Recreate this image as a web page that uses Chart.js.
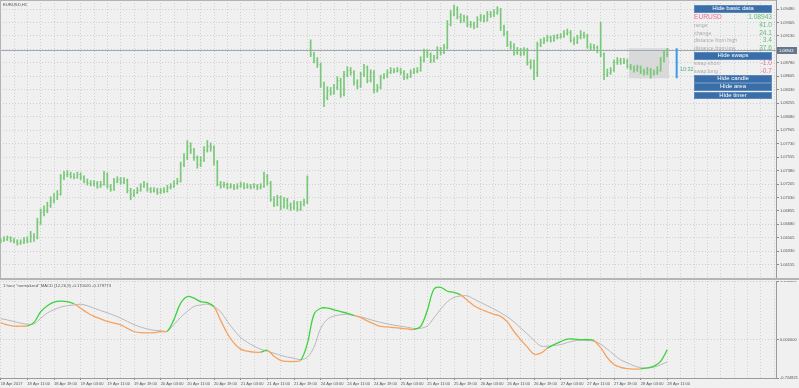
<!DOCTYPE html>
<html>
<head>
<meta charset="utf-8">
<script src="https://cdn.jsdelivr.net/npm/chart.js@4.4.1/dist/chart.umd.min.js"></script>
<style>
html, body { margin: 0; padding: 0; background: #f0f0f0; overflow: hidden; }
#wrap { position: relative; width: 799px; height: 388px; font-family: "Liberation Sans", Arial, sans-serif; }
canvas { position: absolute; left: 0; }
#price { top: 0; }
#macd { top: 281px; }
#sep { position: absolute; left: 0; top: 278px; width: 799px; height: 2px; background: #b4b4b4; }
.title { position: absolute; left: 3px; font-size: 4.2px; color: #555; white-space: nowrap; }
.btn { position: absolute; left: 694px; width: 78px; height: 7.6px; box-sizing: border-box; background: #3a6ea8;
       border: 1px solid #5d89bb; color: #fff; font-size: 6px; line-height: 5.6px; text-align: center; white-space: nowrap; }
.row { position: absolute; left: 694px; width: 78px; height: 8px; line-height: 8px; white-space: nowrap; }
.row .k { position: absolute; left: 0; color: #ababab; font-size: 5.3px; }
.row .v { position: absolute; right: 0; font-size: 6.6px; }
.up { color: #5fc27c; }
.dn { color: #e8708c; }
#timer { position: absolute; left: 680px; top: 66px; font-size: 5.4px; color: #4fae7f; }
</style>
</head>
<body>
<div id="wrap">
  <canvas id="price" width="799" height="278"></canvas>
  <div id="sep"></div>
  <canvas id="macd" width="799" height="107"></canvas>

  <div class="title" style="top:2px">EURUSD,H1</div>
  <div class="title" style="top:283px">1 hour "normalized" MACD (12,26,9) -0.170020 -0.179773</div>

  <div class="btn" style="top:5px">Hide basic data</div>
  <div class="row" style="top:13px"><span class="k dn" style="font-size:6.6px;color:#e8709a">EURUSD</span><span class="v up">1.08943</span></div>
  <div class="row" style="top:21px"><span class="k">range</span><span class="v up">41.0</span></div>
  <div class="row" style="top:28.5px"><span class="k">change</span><span class="v up">24.1</span></div>
  <div class="row" style="top:36px"><span class="k">distance from high</span><span class="v up">3.4</span></div>
  <div class="row" style="top:44px"><span class="k">distance from low</span><span class="v up">37.6</span></div>
  <div class="btn" style="top:52px">Hide swaps</div>
  <div class="row" style="top:59px"><span class="k">swap short</span><span class="v dn">-1.0</span></div>
  <div class="row" style="top:67px"><span class="k">swap long</span><span class="v dn">-0.7</span></div>
  <div class="btn" style="top:75.3px">Hide candle</div>
  <div class="btn" style="top:83.3px">Hide area</div>
  <div class="btn" style="top:91.5px">Hide timer</div>
  <div id="timer">10:32</div>
</div>

<script>
// EURUSD H1, 18 Apr 2017 03:00 .. 28 Apr 2017 11:00
const xLabels = ['18 Apr 2017', '18 Apr 11:00', '18 Apr 19:00', '19 Apr 03:00', '19 Apr 11:00', '19 Apr 19:00',
    '20 Apr 03:00', '20 Apr 11:00', '20 Apr 19:00', '21 Apr 03:00', '21 Apr 11:00', '21 Apr 19:00',
    '24 Apr 03:00', '24 Apr 11:00', '24 Apr 19:00', '25 Apr 03:00', '25 Apr 11:00', '25 Apr 19:00',
    '26 Apr 03:00', '26 Apr 11:00', '26 Apr 19:00', '27 Apr 03:00', '27 Apr 11:00', '27 Apr 19:00',
    '28 Apr 03:00', '28 Apr 11:00'];

const priceTicks = [1.06155, 1.06330, 1.06505, 1.06680, 1.06855, 1.07030, 1.07205, 1.07380, 1.07555, 1.07730,
    1.07905, 1.08080, 1.08255, 1.08430, 1.08605, 1.08780, 1.08955, 1.09130, 1.09305, 1.09480];
const macdTicks = [-0.724821, 0, 1.104401];

const opens = [
    1.0646,1.0648,1.0649,1.0651,1.0648,1.0647,1.0644,1.0645,1.0648,1.0647,
    1.0653,1.0651,1.0671,1.0684,1.0687,1.0693,1.0700,1.0704,1.0708,1.0729,
    1.0733,1.0734,1.0731,1.0730,1.0733,1.0729,1.0725,1.0722,1.0721,1.0722,
    1.0718,1.0721,1.0733,1.0718,1.0714,1.0725,1.0727,1.0723,1.0726,1.0713,
    1.0707,1.0710,1.0713,1.0718,1.0721,1.0714,1.0712,1.0713,1.0710,1.0713,
    1.0712,1.0716,1.0718,1.0722,1.0725,1.0746,1.0755,1.0770,1.0765,1.0755,
    1.0746,1.0752,1.0765,1.0770,1.0768,1.0749,1.0721,1.0718,1.0720,1.0717,
    1.0718,1.0716,1.0718,1.0720,1.0717,1.0718,1.0717,1.0718,1.0716,1.0718,
    1.0731,1.0722,1.0701,1.0695,1.0703,1.0692,1.0700,1.0693,1.0690,1.0696,
    1.0688,1.0695,1.0697,1.0905,1.0889,1.0882,1.0876,1.0850,1.0833,1.0843,
    1.0840,1.0846,1.0856,1.0837,1.0863,1.0869,1.0866,1.0853,1.0848,1.0863,
    1.0872,1.0856,1.0866,1.0843,1.0846,1.0859,1.0861,1.0866,1.0869,1.0868,
    1.0869,1.0866,1.0859,1.0861,1.0866,1.0868,1.0869,1.0882,1.0892,1.0889,
    1.0882,1.0885,1.0895,1.0892,1.0898,1.0929,1.0942,1.0948,1.0939,1.0934,
    1.0937,1.0929,1.0928,1.0926,1.0935,1.0938,1.0934,1.0942,1.0941,1.0944,
    1.0947,1.0924,1.0917,1.0903,1.0900,1.0892,1.0895,1.0891,1.0895,1.0879,
    1.0874,1.0866,1.0902,1.0905,1.0908,1.0911,1.0908,1.0911,1.0912,1.0913,
    1.0917,1.0918,1.0908,1.0905,1.0911,1.0916,1.0913,1.0900,1.0899,1.0898,
    1.0895,1.0889,1.0863,1.0866,1.0869,1.0879,1.0882,1.0879,1.0881,1.0874,
    1.0872,1.0870,1.0872,1.0868,1.0866,1.0869,1.0865,1.0866,1.0869,1.0882,
    1.0889];
const highs = [
    1.0650,1.0652,1.0653,1.0652,1.0650,1.0648,1.0648,1.0651,1.0652,1.0659,
    1.0656,1.0676,1.0688,1.0692,1.0697,1.0704,1.0708,1.0712,1.0733,1.0737,
    1.0738,1.0736,1.0734,1.0736,1.0735,1.0731,1.0727,1.0725,1.0725,1.0724,
    1.0724,1.0737,1.0735,1.0720,1.0728,1.0730,1.0729,1.0729,1.0727,1.0715,
    1.0713,1.0716,1.0721,1.0724,1.0722,1.0716,1.0716,1.0715,1.0715,1.0716,
    1.0719,1.0721,1.0725,1.0728,1.0749,1.0760,1.0777,1.0774,1.0767,1.0757,
    1.0756,1.0769,1.0777,1.0774,1.0770,1.0751,1.0724,1.0723,1.0722,1.0721,
    1.0720,1.0721,1.0723,1.0722,1.0721,1.0720,1.0721,1.0720,1.0721,1.0736,
    1.0733,1.0724,1.0704,1.0706,1.0705,1.0703,1.0702,1.0696,1.0699,1.0698,
    1.0698,1.0701,1.0731,1.0908,1.0892,1.0885,1.0878,1.0853,1.0847,1.0846,
    1.0850,1.0860,1.0858,1.0867,1.0873,1.0872,1.0868,1.0856,1.0866,1.0876,
    1.0874,1.0869,1.0868,1.0850,1.0862,1.0864,1.0869,1.0872,1.0871,1.0872,
    1.0871,1.0868,1.0864,1.0869,1.0871,1.0872,1.0886,1.0896,1.0895,1.0891,
    1.0888,1.0899,1.0898,1.0902,1.0933,1.0946,1.0953,1.0951,1.0942,1.0940,
    1.0939,1.0932,1.0931,1.0938,1.0941,1.0940,1.0945,1.0945,1.0947,1.0951,
    1.0949,1.0927,1.0919,1.0906,1.0903,1.0898,1.0897,1.0898,1.0897,1.0882,
    1.0882,1.0905,1.0909,1.0911,1.0914,1.0913,1.0914,1.0915,1.0916,1.0920,
    1.0922,1.0920,1.0911,1.0914,1.0920,1.0918,1.0915,1.0903,1.0902,1.0900,
    1.0931,1.0891,1.0870,1.0872,1.0882,1.0885,1.0884,1.0884,1.0883,1.0876,
    1.0874,1.0875,1.0874,1.0870,1.0872,1.0871,1.0869,1.0873,1.0885,1.0893,
    1.0897];
const lows = [
    1.0644,1.0646,1.0647,1.0645,1.0644,1.0641,1.0642,1.0643,1.0644,1.0645,
    1.0646,1.0649,1.0668,1.0679,1.0683,1.0690,1.0696,1.0700,1.0706,1.0726,
    1.0730,1.0728,1.0727,1.0728,1.0726,1.0722,1.0719,1.0718,1.0718,1.0715,
    1.0716,1.0719,1.0715,1.0711,1.0712,1.0722,1.0720,1.0721,1.0709,1.0700,
    1.0704,1.0708,1.0711,1.0716,1.0711,1.0709,1.0710,1.0707,1.0708,1.0709,
    1.0710,1.0714,1.0716,1.0720,1.0723,1.0743,1.0752,1.0760,1.0751,1.0741,
    1.0743,1.0750,1.0762,1.0763,1.0745,1.0718,1.0715,1.0716,1.0714,1.0715,
    1.0713,1.0714,1.0716,1.0714,1.0715,1.0714,1.0715,1.0713,1.0714,1.0716,
    1.0719,1.0698,1.0691,1.0692,1.0687,1.0689,1.0688,1.0686,1.0687,1.0685,
    1.0686,1.0692,1.0695,1.0886,1.0878,1.0872,1.0846,1.0821,1.0830,1.0836,
    1.0837,1.0843,1.0833,1.0835,1.0860,1.0862,1.0849,1.0844,1.0846,1.0860,
    1.0852,1.0853,1.0839,1.0840,1.0844,1.0857,1.0859,1.0864,1.0865,1.0866,
    1.0863,1.0856,1.0857,1.0859,1.0864,1.0865,1.0867,1.0879,1.0885,1.0878,
    1.0879,1.0883,1.0888,1.0890,1.0896,1.0926,1.0939,1.0935,1.0930,1.0931,
    1.0925,1.0924,1.0922,1.0924,1.0932,1.0931,1.0932,1.0937,1.0938,1.0941,
    1.0920,1.0913,1.0899,1.0896,1.0888,1.0889,1.0887,1.0888,1.0875,1.0870,
    1.0856,1.0860,1.0899,1.0903,1.0906,1.0905,1.0906,1.0909,1.0910,1.0911,
    1.0914,1.0905,1.0902,1.0903,1.0909,1.0910,1.0897,1.0895,1.0894,1.0891,
    1.0886,1.0856,1.0860,1.0863,1.0867,1.0876,1.0876,1.0877,1.0871,1.0869,
    1.0866,1.0867,1.0864,1.0862,1.0863,1.0858,1.0862,1.0863,1.0867,1.0879,
    1.0886];
const closes = [
    1.0648,1.0649,1.0651,1.0648,1.0647,1.0644,1.0645,1.0648,1.0647,1.0653,
    1.0651,1.0671,1.0684,1.0687,1.0693,1.0700,1.0704,1.0708,1.0729,1.0733,
    1.0734,1.0731,1.0730,1.0733,1.0729,1.0725,1.0722,1.0721,1.0722,1.0718,
    1.0721,1.0733,1.0718,1.0714,1.0725,1.0727,1.0723,1.0726,1.0713,1.0707,
    1.0710,1.0713,1.0718,1.0721,1.0714,1.0712,1.0713,1.0710,1.0713,1.0712,
    1.0716,1.0718,1.0722,1.0725,1.0746,1.0755,1.0770,1.0765,1.0755,1.0746,
    1.0752,1.0765,1.0770,1.0768,1.0749,1.0721,1.0718,1.0720,1.0717,1.0718,
    1.0716,1.0718,1.0720,1.0717,1.0718,1.0717,1.0718,1.0716,1.0718,1.0731,
    1.0722,1.0701,1.0695,1.0703,1.0692,1.0700,1.0693,1.0690,1.0696,1.0688,
    1.0695,1.0697,1.0729,1.0889,1.0882,1.0876,1.0850,1.0833,1.0843,1.0840,
    1.0846,1.0856,1.0837,1.0863,1.0869,1.0866,1.0853,1.0848,1.0863,1.0872,
    1.0856,1.0866,1.0843,1.0846,1.0859,1.0861,1.0866,1.0869,1.0868,1.0869,
    1.0866,1.0859,1.0861,1.0866,1.0868,1.0869,1.0882,1.0892,1.0889,1.0882,
    1.0885,1.0895,1.0892,1.0898,1.0929,1.0942,1.0948,1.0939,1.0934,1.0937,
    1.0929,1.0928,1.0926,1.0935,1.0938,1.0934,1.0942,1.0941,1.0944,1.0947,
    1.0924,1.0917,1.0903,1.0900,1.0892,1.0895,1.0891,1.0895,1.0879,1.0874,
    1.0866,1.0902,1.0905,1.0908,1.0911,1.0908,1.0911,1.0912,1.0913,1.0917,
    1.0918,1.0908,1.0905,1.0911,1.0916,1.0913,1.0900,1.0899,1.0898,1.0895,
    1.0889,1.0863,1.0866,1.0869,1.0879,1.0882,1.0879,1.0881,1.0874,1.0872,
    1.0870,1.0872,1.0868,1.0866,1.0869,1.0865,1.0866,1.0869,1.0882,1.0889,
    1.08943];

// MACD and signal, read every second bar
const macdLine = [
    0.318,0.276,0.253,0.253,0.257,0.324,0.524,0.638,0.705,0.724,
    0.714,0.676,0.591,0.505,0.438,0.391,0.343,0.309,0.276,0.210,
    0.152,0.130,0.128,0.130,0.152,0.158,0.381,0.686,0.810,0.781,
    0.714,0.695,0.619,0.362,0.114,-0.067,-0.181,-0.219,-0.238,-0.238,
    -0.200,-0.314,-0.391,-0.413,-0.413,-0.391,-0.076,0.476,0.591,0.594,
    0.562,0.528,0.495,0.457,0.413,0.352,0.295,0.248,0.238,0.225,
    0.213,0.200,0.191,0.248,0.552,0.953,0.985,0.911,0.890,0.842,
    0.743,0.638,0.572,0.524,0.476,0.438,0.333,0.152,0.000,-0.143,
    -0.276,-0.257,-0.162,-0.095,-0.038,0.010,0.008,0.000,0.000,-0.019,
    -0.152,-0.343,-0.471,-0.524,-0.547,-0.556,-0.552,-0.533,-0.501,-0.410,
    -0.190];
const signalLine = [
    0.394,0.370,0.339,0.309,0.290,0.295,0.400,0.503,0.562,0.613,
    0.638,0.653,0.667,0.638,0.591,0.547,0.505,0.457,0.404,0.343,
    0.282,0.236,0.200,0.175,0.166,0.160,0.286,0.419,0.533,0.625,
    0.652,0.667,0.619,0.524,0.343,0.181,0.038,-0.051,-0.124,-0.181,
    -0.223,-0.257,-0.297,-0.330,-0.352,-0.377,-0.333,-0.143,0.210,0.381,
    0.444,0.467,0.476,0.451,0.429,0.394,0.356,0.324,0.295,0.271,
    0.253,0.232,0.210,0.213,0.257,0.410,0.572,0.714,0.794,0.821,
    0.825,0.762,0.699,0.638,0.575,0.505,0.429,0.333,0.219,0.105,
    -0.013,-0.120,-0.125,-0.112,-0.095,-0.057,-0.025,-0.013,-0.017,-0.029,
    -0.086,-0.181,-0.286,-0.381,-0.440,-0.495,-0.530,-0.539,-0.518,-0.476,
    -0.419];

const areaFrom = 189;      // first bar of the shaded "area" box
const timerAt = 202.8;     // candle timer bar position (in bars)

const xMin = -0.2, xMax = 232.6;
const priceMin = 1.05983, priceMax = 1.09597;
const barColor = '#78c878';
const gridColor = '#d0d0d0';
const font = '"Liberation Sans", Arial, sans-serif';
Chart.defaults.font.family = font;

const bid = closes[closes.length - 1];
const areaHigh = Math.max(...highs.slice(areaFrom));
const areaLow = Math.min(...lows.slice(areaFrom));

function gridTicks(scale) {
    const t = [];
    for (let v = 0; v <= 232; v += 4) t.push({value: v});
    scale.ticks = t;
}

const pricePanel = {
    id: 'pricePanel',
    beforeDatasetsDraw(chart) {
        const {ctx, chartArea: a, scales: {x, y}} = chart;
        ctx.save();
        const x0 = x.getPixelForValue(areaFrom - 0.5), x1 = x.getPixelForValue(closes.length - 0.5);
        const y0 = y.getPixelForValue(areaHigh), y1 = y.getPixelForValue(areaLow);
        ctx.fillStyle = '#d9d9d9';
        ctx.fillRect(x0, y0, x1 - x0, y1 - y0);
        const by = Math.round(y.getPixelForValue(bid)) + 0.5;
        ctx.strokeStyle = '#9ea9b6';
        ctx.lineWidth = 1;
        ctx.beginPath();
        ctx.moveTo(a.left, by); ctx.lineTo(a.right, by);
        ctx.stroke();
        ctx.strokeStyle = '#b4b4b4';
        ctx.beginPath();
        ctx.moveTo(0.5, 0); ctx.lineTo(0.5, a.bottom);
        ctx.moveTo(0, 0.5); ctx.lineTo(a.right, 0.5);
        ctx.stroke();
        ctx.restore();
    },
    afterDatasetsDraw(chart) {
        const {ctx, scales: {x, y}} = chart;
        ctx.save();
        ctx.strokeStyle = barColor;
        ctx.lineWidth = 1;
        ctx.beginPath();
        for (let i = 0; i < closes.length; i++) {
            const px = x.getPixelForValue(i);
            const oy = Math.round(y.getPixelForValue(opens[i])) + 0.5;
            const cy = Math.round(y.getPixelForValue(closes[i])) + 0.5;
            ctx.moveTo(px - 1, oy); ctx.lineTo(px, oy);
            ctx.moveTo(px, cy); ctx.lineTo(px + 1, cy);
        }
        ctx.stroke();
        // candle timer bar
        const tx = x.getPixelForValue(timerAt);
        ctx.strokeStyle = '#3a9bea';
        ctx.lineWidth = 2;
        ctx.beginPath();
        ctx.moveTo(tx, y.getPixelForValue(areaHigh));
        ctx.lineTo(tx, y.getPixelForValue(areaLow));
        ctx.stroke();
        ctx.restore();
    },
    afterDraw(chart) {
        const {ctx, chartArea: a, scales: {y}} = chart;
        const by = Math.round(y.getPixelForValue(bid));
        ctx.save();
        ctx.fillStyle = '#66778a';
        ctx.fillRect(a.right + 1, by - 3, 20, 7);
        ctx.fillStyle = '#fff';
        ctx.font = '4px ' + font;
        ctx.textBaseline = 'middle';
        ctx.fillText(bid.toFixed(5), a.right + 3, by + 0.5);
        ctx.restore();
    }
};

new Chart(document.getElementById('price'), {
    type: 'bar',
    data: {
        datasets: [{
            data: highs.map((h, i) => ({x: i, y: [lows[i], h]})),
            backgroundColor: barColor,
            barThickness: 1,
            borderWidth: 0
        }]
    },
    options: {
        responsive: false,
        animation: false,
        layout: {padding: 0},
        plugins: {legend: {display: false}, tooltip: {enabled: false}},
        scales: {
            x: {
                type: 'linear', min: xMin, max: xMax, offset: false,
                afterBuildTicks: gridTicks,
                grid: {color: gridColor, drawTicks: false, offset: false},
                border: {display: false, dash: [1, 2]},
                ticks: {display: false},
                afterFit(s) { s.height = 0; s.paddingLeft = 0; s.paddingRight = 0; }
            },
            y: {
                position: 'right', min: priceMin, max: priceMax,
                afterBuildTicks(s) { s.ticks = priceTicks.map(v => ({value: v})); },
                grid: {color: gridColor, tickLength: 3, tickColor: '#8a8a8a'},
                border: {color: '#9a9a9a', dash: [1, 2]},
                ticks: {font: {size: 4}, color: '#555', padding: 1, callback: v => v.toFixed(5)},
                afterFit(s) { s.width = 23; s.paddingTop = 0; s.paddingBottom = 0; }
            }
        }
    },
    plugins: [pricePanel]
});

const upColor = '#3fd23f', downColor = '#f7a25e';

new Chart(document.getElementById('macd'), {
    type: 'line',
    data: {
        datasets: [{
            data: macdLine.map((v, k) => ({x: k * 2, y: v})),
            borderColor: upColor,
            borderWidth: 1.3,
            pointRadius: 0,
            tension: 0.35,
            segment: {
                borderColor: c => macdLine[c.p1DataIndex] >= signalLine[c.p1DataIndex] ? upColor : downColor
            }
        }, {
            data: signalLine.map((v, k) => ({x: k * 2, y: v})),
            borderColor: '#b8b8b8',
            borderWidth: 1,
            pointRadius: 0,
            tension: 0.35
        }]
    },
    options: {
        responsive: false,
        animation: false,
        layout: {padding: 0},
        plugins: {legend: {display: false}, tooltip: {enabled: false}},
        scales: {
            x: {
                type: 'linear', min: xMin, max: xMax, offset: false,
                afterBuildTicks: gridTicks,
                grid: {
                    color: gridColor, tickLength: 2,
                    tickColor: c => (c.tick && c.tick.value % 8 === 0 && c.tick.value <= 200) ? '#8a8a8a' : 'rgba(0,0,0,0)'
                },
                border: {color: '#9a9a9a', dash: [1, 2]},
                ticks: {
                    font: {size: 4}, color: '#555', align: 'start', padding: 1, maxRotation: 0, autoSkip: false,
                    callback: v => v % 8 === 0 ? (xLabels[v / 8] || '') : ''
                },
                afterFit(s) { s.height = 10; s.paddingLeft = 0; s.paddingRight = 0; }
            },
            y: {
                position: 'right', min: macdTicks[0], max: macdTicks[2],
                afterBuildTicks(s) { s.ticks = macdTicks.map(v => ({value: v})); },
                grid: {color: gridColor, tickLength: 3, tickColor: '#8a8a8a'},
                border: {color: '#9a9a9a', dash: [1, 2]},
                ticks: {font: {size: 4}, color: '#555', padding: 1, callback: v => v.toFixed(6)},
                afterFit(s) { s.width = 23; s.paddingTop = 0; s.paddingBottom = 0; }
            }
        }
    }
});
</script>
</body>
</html>
